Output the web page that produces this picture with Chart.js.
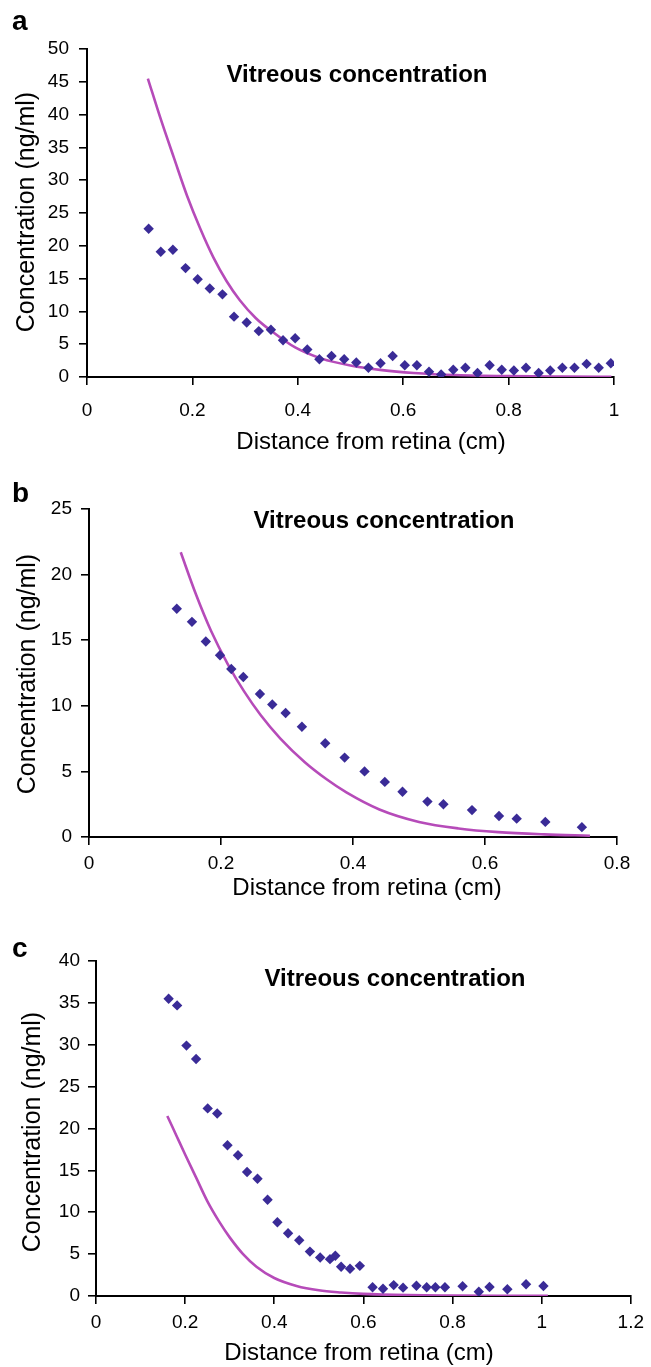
<!DOCTYPE html>
<html><head><meta charset="utf-8">
<script src="https://cdn.jsdelivr.net/npm/chart.js@4.4.1/dist/chart.umd.min.js"></script>
<style>
html,body{margin:0;padding:0;background:#fff;}
#wrap{position:relative;width:651px;height:1367px;overflow:hidden;background:#fff;}
canvas{position:absolute;left:0;top:0;}
</style></head><body>
<div id="wrap">
<canvas id="ca" width="651" height="1367"></canvas>
<canvas id="cb" width="651" height="1367"></canvas>
<canvas id="cc" width="651" height="1367"></canvas>
</div>
<script>
// ---- Panel a data ----
const aDistance = [0.117,0.140,0.163,0.187,0.210,0.233,0.257,0.279,0.303,0.326,0.349,0.372,0.395,0.418,0.441,0.464,0.488,0.511,0.534,0.557,0.580,0.603,0.626,0.649,0.672,0.695,0.718,0.741,0.764,0.787,0.810,0.833,0.857,0.879,0.902,0.925,0.948,0.971,0.994];
const aConc = [22.6,19.1,19.4,16.6,14.9,13.5,12.6,9.2,8.3,7.0,7.2,5.6,5.9,4.2,2.7,3.2,2.7,2.2,1.4,2.1,3.2,1.8,1.8,0.8,0.4,1.1,1.4,0.6,1.8,1.1,1.0,1.4,0.6,1.0,1.4,1.4,2.0,1.4,2.1];
const aModelDistance = [0.1155,0.14,0.165,0.19,0.215,0.24,0.265,0.29,0.32,0.35,0.395,0.445,0.50,0.56,0.62,0.70,0.80,0.90,0.995];
const aModelConc = [45.5,39.3,33.4,27.6,22.6,18.2,14.6,11.7,9.0,7.0,4.5,2.8,1.75,1.05,0.62,0.3,0.13,0.06,0.03];
const aXTicks = [0,0.2,0.4,0.6,0.8,1];
const aYTicks = [0,5,10,15,20,25,30,35,40,45,50];

// ---- Panel b data ----
const bDistance = [0.133,0.156,0.177,0.1985,0.2156,0.2338,0.259,0.2777,0.2979,0.3226,0.3579,0.3873,0.4175,0.4482,0.475,0.5128,0.537,0.5803,0.6212,0.648,0.6914,0.7468];
const bConc = [17.4,16.4,14.9,13.85,12.8,12.2,10.9,10.1,9.45,8.4,7.15,6.05,5.0,4.2,3.45,2.7,2.5,2.05,1.6,1.4,1.15,0.75];
const bModelDistance = [0.139,0.162,0.185,0.21,0.235,0.26,0.29,0.327,0.36,0.39,0.44,0.50,0.56,0.62,0.69,0.759];
const bModelConc = [21.7,18.5,15.7,13.2,11.1,9.3,7.5,5.7,4.4,3.4,2.1,1.15,0.65,0.37,0.2,0.1];
const bXTicks = [0,0.2,0.4,0.6,0.8];
const bYTicks = [0,5,10,15,20,25];

// ---- Panel c data ----
const cDistance = [0.163,0.182,0.203,0.2246,0.2506,0.272,0.295,0.3186,0.339,0.3624,0.385,0.407,0.431,0.456,0.480,0.503,0.525,0.537,0.550,0.570,0.592,0.6206,0.644,0.668,0.689,0.719,0.742,0.7615,0.783,0.8226,0.859,0.883,0.923,0.965,1.004];
const cConc = [35.5,34.7,29.9,28.3,22.4,21.8,18.0,16.8,14.8,14.0,11.5,8.8,7.5,6.65,5.3,4.6,4.4,4.8,3.5,3.26,3.6,1.04,0.87,1.3,1.0,1.23,1.04,1.04,1.04,1.16,0.51,1.07,0.8,1.4,1.19];
const cModelDistance = [0.160,0.18,0.20,0.225,0.25,0.275,0.30,0.33,0.36,0.40,0.45,0.50,0.55,0.60,0.70,0.80,0.90,1.014];
const cModelConc = [21.5,19.2,16.9,14.1,11.3,9.0,7.0,5.0,3.5,2.15,1.2,0.68,0.42,0.25,0.1,0.05,0.02,0.01];
const cXTicks = [0,0.2,0.4,0.6,0.8,1,1.2];
const cYTicks = [0,5,10,15,20,25,30,35,40];

const panelLetters = ['a','b','c'];
const innerTitle = 'Vitreous concentration';
const xTitle = 'Distance from retina (cm)';
const yTitle = 'Concentration (ng/ml)';

const FONT = '"Liberation Sans", Arial, Helvetica, sans-serif';
const POINT_COLOR = '#3a2b97';
const LINE_COLOR = '#b64bb9';
const H = 1367, W = 651;

function pts(xs, ys){ return xs.map((x,i)=>({x:x, y:ys[i]})); }
function fmt(v){ return String(+(+v).toFixed(2)); }

function makePanel(id, d, g){
  const overlay = {
    id: 'overlay_'+id,
    afterDraw(chart){
      const ctx = chart.ctx;
      ctx.save();
      ctx.fillStyle = '#000';
      ctx.textBaseline = 'alphabetic';
      ctx.font = 'bold 28px ' + FONT;
      ctx.textAlign = 'left';
      ctx.fillText(g.letter, g.letterX, g.letterY);
      ctx.font = 'bold 24px ' + FONT;
      ctx.textAlign = 'center';
      ctx.fillText(innerTitle, g.titleX, g.titleY);
      ctx.font = '24px ' + FONT;
      ctx.fillText(xTitle, g.xTitleX, g.xTitleY);
      ctx.translate(g.yTitleX, g.yTitleY);
      ctx.rotate(-Math.PI/2);
      ctx.font = '25px ' + FONT;
      ctx.fillText(yTitle, 0, 0);
      ctx.restore();
    }
  };
  return new Chart(document.getElementById(id), {
    type: 'scatter',
    data: {
      datasets: [
        { label: 'measured', data: pts(d.x, d.y), pointStyle: 'rectRot', pointRadius: 5.2, pointHoverRadius: 5.2,
          backgroundColor: POINT_COLOR, borderColor: POINT_COLOR, borderWidth: 0, showLine: false },
        { label: 'model', data: pts(d.mx, d.my), showLine: true, pointRadius: 0, borderColor: LINE_COLOR,
          borderWidth: 2.6, fill: false, cubicInterpolationMode: 'monotone' }
      ]
    },
    options: {
      responsive: false, animation: false, devicePixelRatio: 1,
      layout: { padding: { left: 0, top: g.top, right: W - g.right, bottom: H - g.bottom - g.xH } },
      plugins: { legend: { display: false }, tooltip: { enabled: false }, title: { display: false } },
      scales: {
        x: {
          type: 'linear', min: 0, max: d.xt[d.xt.length-1],
          afterBuildTicks: s => { s.ticks = d.xt.map(v => ({value: v})); },
          afterFit: s => { s.height = g.xH; },
          ticks: { font: { family: FONT, size: 19 }, color: '#000', padding: g.xPad, callback: v => fmt(v), maxRotation: 0, autoSkip: false },
          grid: { drawOnChartArea: false, drawTicks: true, tickLength: 8, tickColor: '#000', lineWidth: 1.6 },
          border: { display: true, color: '#000', width: 2 },
          title: { display: false }
        },
        y: {
          type: 'linear', min: 0, max: d.yt[d.yt.length-1],
          afterBuildTicks: s => { s.ticks = d.yt.map(v => ({value: v})); },
          afterFit: s => { s.width = g.left; },
          ticks: { font: { family: FONT, size: 19 }, color: '#000', padding: g.yPad, callback: v => fmt(v), autoSkip: false },
          grid: { drawOnChartArea: false, drawTicks: true, tickLength: 8, tickColor: '#000', lineWidth: 1.6 },
          border: { display: true, color: '#000', width: 2 },
          title: { display: false }
        }
      }
    },
    plugins: [overlay]
  });
}

makePanel('ca', { x: aDistance, y: aConc, mx: aModelDistance, my: aModelConc, xt: aXTicks, yt: aYTicks },
  { left: 87, right: 614, top: 49, bottom: 377, xH: 80, xPad: 14.5, yPad: 10,
    letter: panelLetters[0], letterX: 12, letterY: 30, titleX: 357, titleY: 82,
    xTitleX: 371, xTitleY: 449, yTitleX: 34, yTitleY: 212 });
makePanel('cb', { x: bDistance, y: bConc, mx: bModelDistance, my: bModelConc, xt: bXTicks, yt: bYTicks },
  { left: 89, right: 617, top: 509, bottom: 837, xH: 64, xPad: 7, yPad: 9,
    letter: panelLetters[1], letterX: 12, letterY: 502, titleX: 384, titleY: 528,
    xTitleX: 367, xTitleY: 895, yTitleX: 35, yTitleY: 674 });
makePanel('cc', { x: cDistance, y: cConc, mx: cModelDistance, my: cModelConc, xt: cXTicks, yt: cYTicks },
  { left: 96, right: 633, top: 961, bottom: 1296, xH: 70, xPad: 7, yPad: 8,
    letter: panelLetters[2], letterX: 12, letterY: 957, titleX: 395, titleY: 986,
    xTitleX: 359, xTitleY: 1360, yTitleX: 40, yTitleY: 1132 });
</script>
</body></html>
